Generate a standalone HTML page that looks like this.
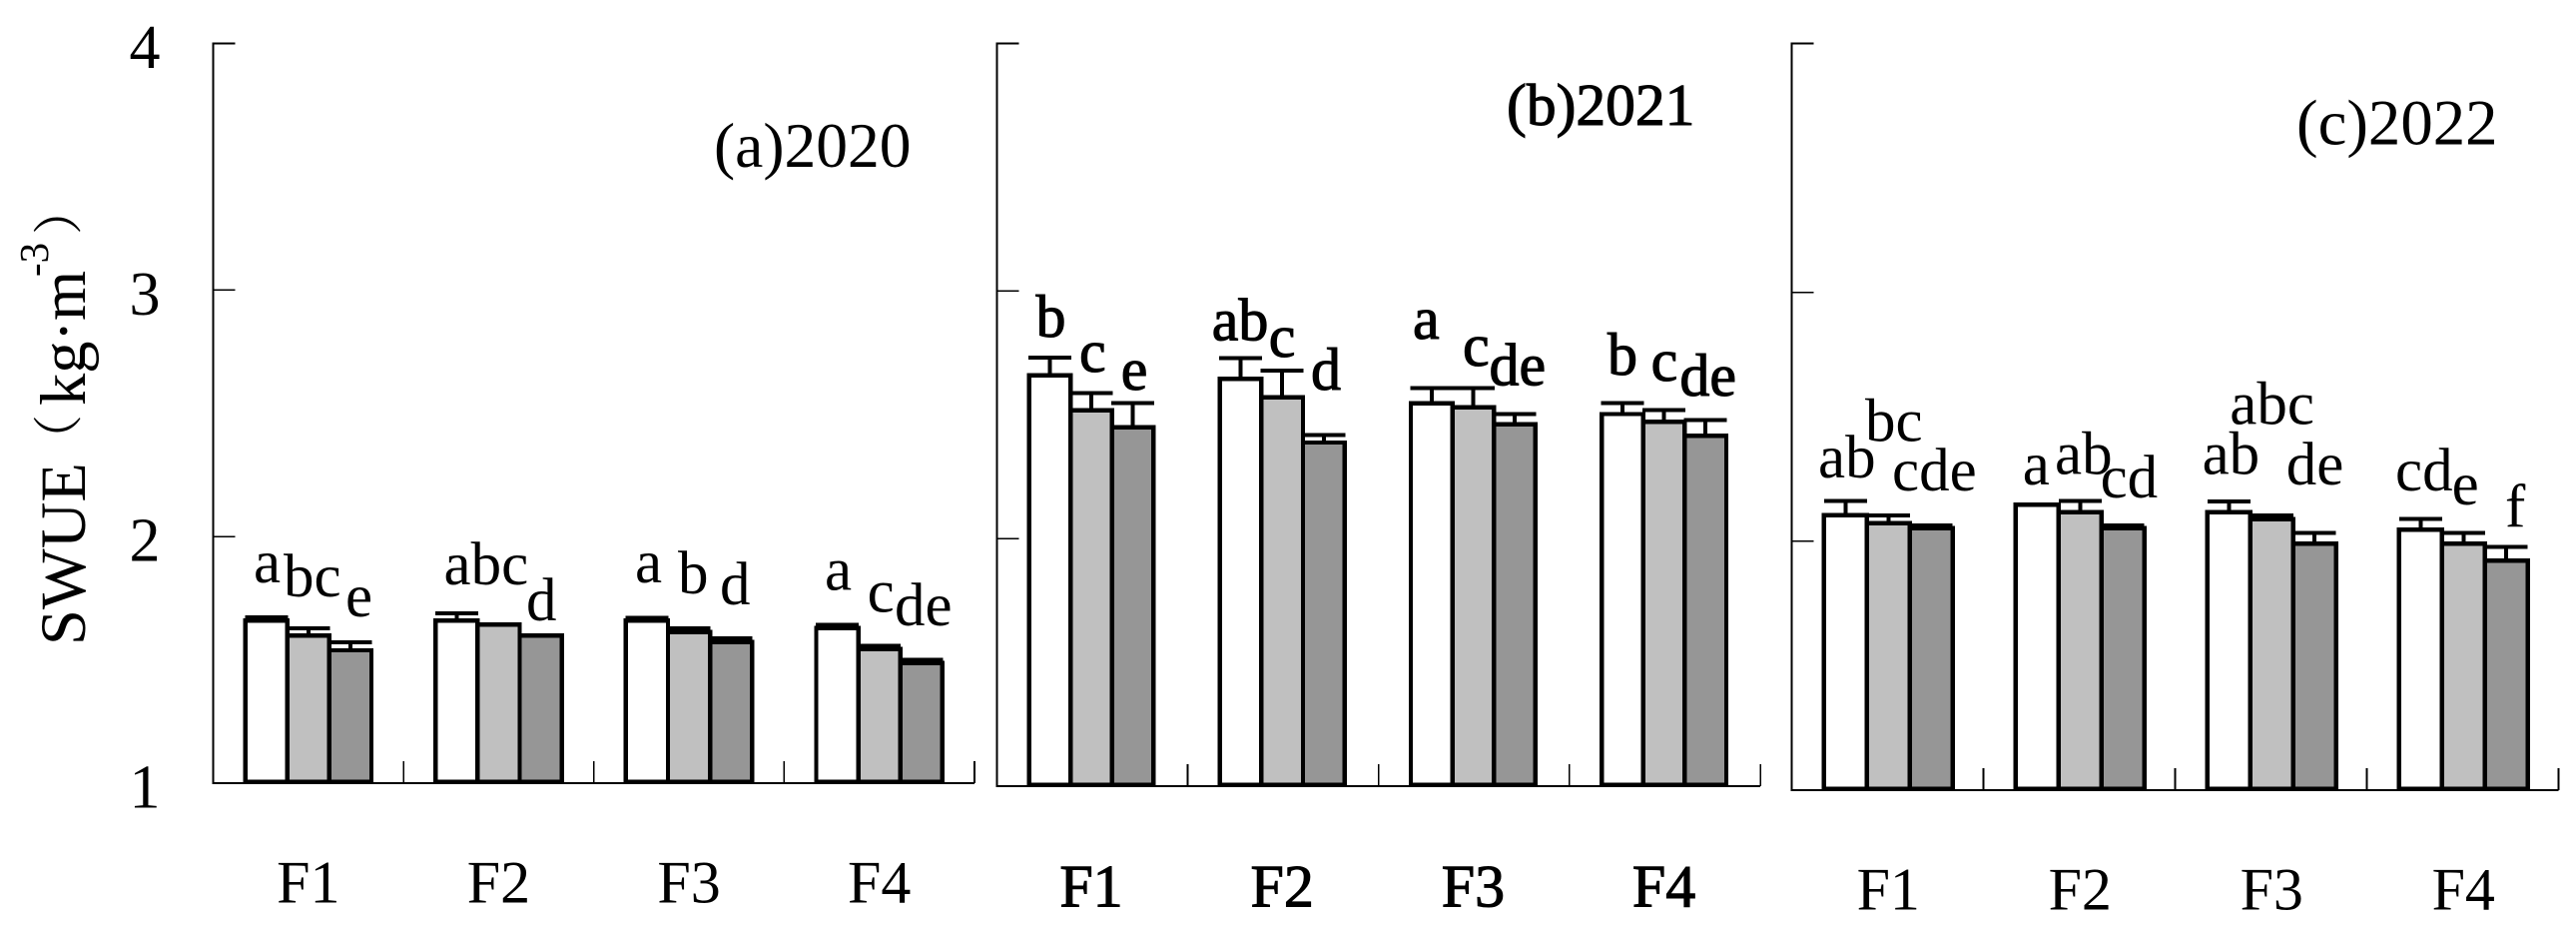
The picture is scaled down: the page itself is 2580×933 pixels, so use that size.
<!DOCTYPE html>
<html lang="en">
<head>
<meta charset="utf-8">
<title>SWUE bar charts 2020-2022</title>
<style>
html,body{margin:0;padding:0;background:#fff;width:2580px;height:933px;overflow:hidden}
svg{display:block}
text{font-family:"Liberation Serif","Noto Serif CJK SC",serif;fill:#000}
rect,line{shape-rendering:crispEdges}
.bold-ish{stroke:#000;stroke-width:1.1px}
</style>
</head>
<body>
<svg id="chart" xmlns="http://www.w3.org/2000/svg" width="2580" height="933" viewBox="0 0 2580 933">
  <text transform="translate(85,646) rotate(-90)" font-size="64.5"><tspan x="0" y="0">SWUE</tspan><tspan x="181" y="-9" font-size="50" font-family="'Noto Serif CJK SC',serif">（</tspan><tspan x="240" y="0">kg</tspan><tspan x="304" y="0">·</tspan><tspan x="325" y="0">m</tspan><tspan x="369" y="-37" font-size="41">-3</tspan><tspan x="411" y="-9" font-size="50" font-family="'Noto Serif CJK SC',serif">）</tspan></text>

  <text x="715" y="167" font-size="63.5">(a)2020</text>
  <text class="bold-ish" x="1509" y="125" font-size="59.5">(b)2021</text>
  <text x="2300" y="144.6" font-size="64.8">(c)2022</text>

  <g font-size="61">
    <text x="254" y="583">a</text>
    <text x="284" y="597">bc</text>
    <text x="346" y="617">e</text>
    <text x="444.5" y="585">abc</text>
    <text x="527" y="621">d</text>
    <text x="636" y="583">a</text>
    <text x="679" y="594">b</text>
    <text x="721" y="605">d</text>
    <text x="826" y="590.5">a</text>
    <text x="868.6" y="612.5">c</text>
    <text x="896" y="626">de</text>
  </g>
  <g font-size="60" class="bold-ish">
    <text x="1037.5" y="337">b</text>
    <text x="1081" y="372">c</text>
    <text x="1122.8" y="390">e</text>
    <text x="1213.8" y="340.5">ab</text>
    <text x="1270.8" y="357">c</text>
    <text x="1313" y="390">d</text>
    <text x="1415" y="339">a</text>
    <text x="1465" y="366">c</text>
    <text x="1491.5" y="385.7">de</text>
    <text x="1610" y="375">b</text>
    <text x="1653.6" y="381">c</text>
    <text x="1682.4" y="395.8">de</text>
  </g>
  <g font-size="61">
    <text x="1821" y="478">ab</text>
    <text x="1868" y="441.7">bc</text>
    <text x="1895" y="491">cde</text>
    <text x="2025.7" y="485">a</text>
    <text x="2058" y="474.4">ab</text>
    <text x="2103.6" y="498">cd</text>
    <text x="2205.6" y="474.4">ab</text>
    <text x="2233.3" y="424.4">abc</text>
    <text x="2289.8" y="485">de</text>
    <text x="2399" y="491">cd</text>
    <text x="2455.6" y="504.8">e</text>
    <text x="2509" y="526.8">f</text>
  </g>
</svg>
<script>
const categories = ['F1', 'F2', 'F3', 'F4'];
const yTickValues = [1, 2, 3, 4];

const means2020White = [1.667, 1.667, 1.667, 1.637];
const means2020Light = [1.606, 1.651, 1.621, 1.552];
const means2020Dark = [1.547, 1.606, 1.581, 1.495];
const errors2020White = [0.005, 0.021, 0.003, 0.006];
const errors2020Light = [0.021, 0, 0.006, 0.006];
const errors2020Dark = [0.024, 0, 0.006, 0.006];

const means2021White = [2.668, 2.654, 2.554, 2.511];
const means2021Light = [2.527, 2.578, 2.538, 2.48];
const means2021Dark = [2.458, 2.396, 2.469, 2.423];
const errors2021White = [0.062, 0.075, 0.054, 0.036];
const errors2021Light = [0.06, 0.1, 0.07, 0.04];
const errors2021Dark = [0.089, 0.022, 0.035, 0.055];

const means2022White = [2.112, 2.155, 2.125, 2.054];
const means2022Light = [2.081, 2.124, 2.097, 1.998];
const means2022Dark = [2.06, 2.06, 1.998, 1.93];
const errors2022White = [0.05, 0, 0.035, 0.036];
const errors2022Light = [0.023, 0.037, 0.007, 0.036];
const errors2022Dark = [0.004, 0.004, 0.036, 0.048];

const seriesFills = ['#ffffff', '#c0c0c0', '#969696'];
const seriesKeys = ['white', 'light', 'dark'];

const svg = document.getElementById('chart');
const NS = 'http://www.w3.org/2000/svg';

function make(tag, attrs, parent) {
  const node = document.createElementNS(NS, tag);
  for (const k in attrs) node.setAttribute(k, attrs[k]);
  parent.appendChild(node);
  return node;
}

function drawPanel(cfg) {
  const yScale = v => cfg.base - (v - 1) * (cfg.base - cfg.top) / 3;
  const catLeft = i => cfg.left + i * cfg.step;
  const barX = (i, s) => catLeft(i) + cfg.inset + s * cfg.barW;

  const group = make('g', {}, svg);
  
  

  const yAxis = make('line', {x1: cfg.left, x2: cfg.left, y1: cfg.top - 1, y2: cfg.base + 1, stroke: '#000', 'stroke-width': 2}, group);
  
  

  yTickValues.forEach(t => {
    if (t === 1) return;
    const tick = make('line', {x1: cfg.left, x2: cfg.left + 22, y1: yScale(t), y2: yScale(t), stroke: '#000', 'stroke-width': 1.6}, group);
    
    
  });

  if (cfg.showYLabels) {
    yTickValues.forEach(t => {
      const label = make('text', {x: 145, y: yScale(t) + 24.5, 'font-size': 62, 'text-anchor': 'middle'}, group);
      label.textContent = t;
      
      
    });
  }

  categories.forEach((c, i) => {
    cfg.means.forEach((series, s) => {
      const y = yScale(series[i]) + 2;
      const bar = make('rect', {
        x: barX(i, s), y: y, width: cfg.barW, height: cfg.base - 1.5 - y,
        fill: seriesFills[s], stroke: '#000', 'stroke-width': 4.4
      }, group);
      
      
    });
  });

  categories.forEach((c, i) => {
    cfg.means.forEach((series, s) => {
      if (cfg.errors[s][i] === 0) return;
      const cx = barX(i, s) + cfg.barW / 2;
      const yTop = yScale(series[i] + cfg.errors[s][i]);
      const stem = make('line', {x1: cx, x2: cx, y1: yTop, y2: yScale(series[i]), stroke: '#000', 'stroke-width': 4}, group);
      
      
      const cap = make('line', {x1: cx - 21.5, x2: cx + 21.5, y1: yTop, y2: yTop, stroke: '#000', 'stroke-width': 4}, group);
      
      
    });
  });

  const xAxis = make('line', {x1: cfg.left, x2: catLeft(categories.length), y1: cfg.base, y2: cfg.base, stroke: '#000', 'stroke-width': 2}, group);
  
  

  categories.forEach((c, i) => {
    const tx = catLeft(i + 1);
    const tick = make('line', {x1: tx, x2: tx, y1: cfg.base - 22, y2: cfg.base, stroke: '#000', 'stroke-width': 1.6}, group);
    
    

    const label = make('text', {x: barX(i, 1) + cfg.barW / 2, y: cfg.labelY, 'font-size': 60, 'text-anchor': 'middle'}, group);
    if (cfg.boldText) label.setAttribute('class', 'bold-ish');
    label.textContent = c;
    
    
  });
}

drawPanel({
  year: 2020, left: 213.6, step: 190.6, inset: 32.1, barW: 42.1, top: 43.5, base: 784, labelY: 903.6, showYLabels: true, boldText: false,
  means: [means2020White, means2020Light, means2020Dark],
  errors: [errors2020White, errors2020Light, errors2020Dark]
});
drawPanel({
  year: 2021, left: 998.3, step: 191.2, inset: 32.3, barW: 41.6, top: 43.5, base: 787, labelY: 907.7, showYLabels: false, boldText: true,
  means: [means2021White, means2021Light, means2021Dark],
  errors: [errors2021White, errors2021Light, errors2021Dark]
});
drawPanel({
  year: 2022, left: 1794.5, step: 192, inset: 32.4, barW: 42.9, top: 43.5, base: 791, labelY: 910.7, showYLabels: false, boldText: false,
  means: [means2022White, means2022Light, means2022Dark],
  errors: [errors2022White, errors2022Light, errors2022Dark]
});
</script>
</body>
</html>
